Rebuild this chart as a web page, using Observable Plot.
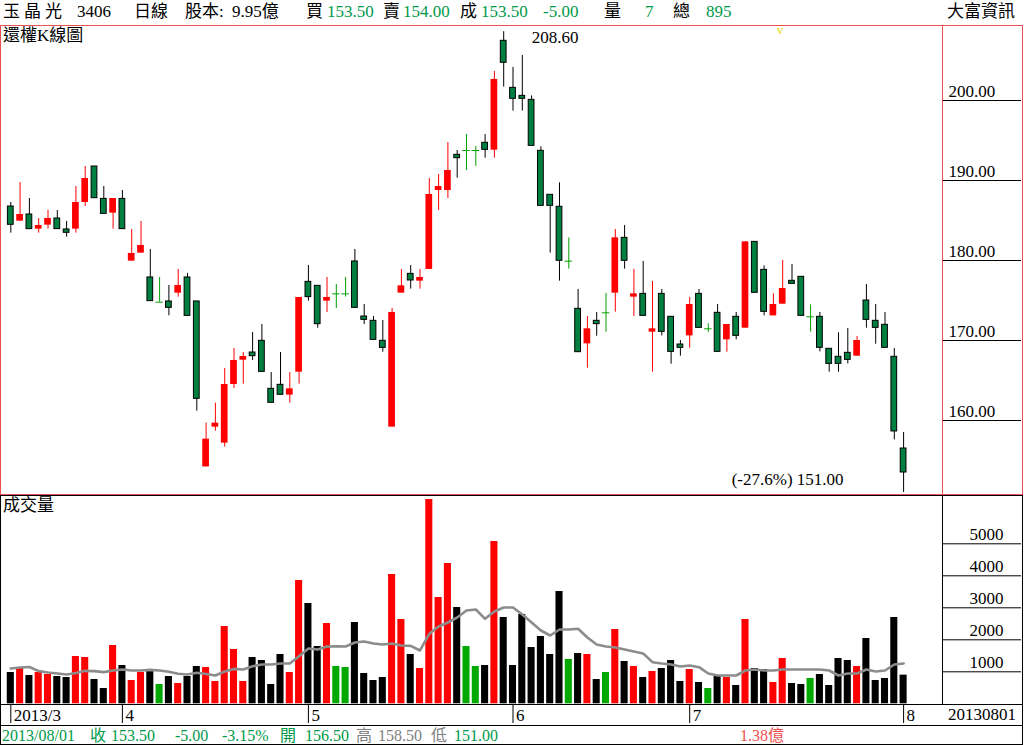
<!DOCTYPE html>
<html><head><meta charset="utf-8">
<script src="https://cdn.jsdelivr.net/npm/d3@7"></script>
<script src="https://cdn.jsdelivr.net/npm/@observablehq/plot@0.6"></script>
<style>
body{margin:0;background:#fff;}
#wrap{position:relative;width:1024px;height:745px;overflow:hidden;font-family:"Liberation Serif","Noto Sans CJK TC",serif;background:#fff;}
.t{position:absolute;white-space:nowrap;line-height:20px;}
.box{position:absolute;box-sizing:border-box;border:1px solid #000;pointer-events:none;z-index:5;}
.plot{position:absolute;left:0;}
</style></head><body><div id="wrap"></div>
<script>
// ---------- data ----------
const openP = [186.75,184.92,185.75,183.92,184.42,185.25,183.88,183.92,187.25,191.75,187.7,185.92,187.7,179.92,180.92,177.88,174.79,174.88,175.92,177.88,174.88,154.2,159.17,157.17,164.5,
167.54,168.5,169.96,163.96,164.46,163.17,166.04,177.33,176.83,174.92,175.83,175.83,179.88,173,172.46,169.96,159.17,175.92,178.33,177.42,178.88,188.75,188.75,193.21,193.75,
193.75,194.71,193.79,207.46,201.58,200.58,200.08,193.71,188.21,186.71,179.92,173.96,169.58,172.46,173.46,175.92,182.83,175.42,175.83,171.04,175.83,172.96,169.5,170.58,175.83,
171.46,173.46,170.08,172.96,171.54,182.33,178.83,173.08,174.54,177.46,177.96,172.96,172.96,168.96,167.96,168.46,168.04,175,172.46,171.96,167.96,156.5];
const highP = [187.25,189.75,187.75,185.25,186.25,186.25,184.88,189.25,191.75,191.75,189.25,187.75,188.75,183.88,184.88,181.38,177.88,176.88,178.88,178.38,174.88,159.67,162.17,166.5,169,
168.5,171,172,166,168.5,166,175.38,179.38,176.83,177.88,177,177.88,181.38,174.5,173,172.5,174,178.88,179.38,178.88,190.25,190.75,194.75,193.75,195.75,
194.25,195.75,203.63,208.6,204.13,205.63,200.58,194.21,188.21,189.71,182.83,176.38,173,173.5,175.88,183.88,184.38,178.88,179.88,177.38,176.38,172.96,170,175.38,176.38,
172.08,174.5,172,173.5,182.33,182.33,179.33,175.83,180,179.5,177.96,174.46,173.5,168.96,170.96,171.5,170.5,177,174.5,173.5,169,158.5];
const lowP = [183.42,184.92,183.92,183.42,183.92,183.92,182.92,183.42,186.75,187.79,185.83,183.92,183.92,179.92,180.92,174.92,174.79,173.08,175.42,173.08,161.17,154.2,158.67,156.67,164,
164.54,167.5,166.08,162.21,163.21,162.17,164.54,174.92,171.54,173.5,174,175.42,174.08,172,170.08,168.54,159.17,175.92,176.42,176.42,178.88,186.25,187.75,190.29,191.25,
191.75,192.79,192.79,201.67,198.67,198.67,194.33,186.83,180.92,177.42,178.92,168.54,166.54,170.54,171.04,173.54,178.92,173,173.08,166.04,170.58,167.04,168.04,169.04,171.58,
171,168.58,168.54,170.08,171.54,175.96,173.08,173.08,174.54,177.08,173.08,171.04,168.58,166.04,166.04,167.08,168.04,171.54,169.54,169.08,157.58,151];
const closeP = [184.46,185.75,183.92,184.38,185.25,183.92,183.46,187.25,190.25,187.79,185.83,187.75,183.92,180.88,181.88,174.92,174.79,174.08,176.88,173.08,162.71,157.67,159.67,164.5,167.5,
168,168.04,166.08,162.21,163.21,163.96,175.38,175.42,172.04,175.38,175.83,175.83,174.08,172.58,170.08,169.08,173.5,176.83,177.5,177.88,188.25,189.25,191.25,192.79,193.75,
193.75,193.83,202.63,204.71,200.21,200.21,194.33,186.83,186.83,179.96,179.92,168.54,171.46,172.04,173.46,182.83,179.96,175.83,173.08,171.46,171.08,168.58,169.08,174.5,171.58,
171.46,168.58,172,170.58,182.33,175.96,173.58,174.5,176.5,177.08,173.08,172.96,169.08,167.08,167.08,167.58,170,172.58,171.58,169.08,158.63,153.5];
const volume = [978,1103,884,978,916,853,822,1478,1447,759,478,1822,1197,728,978,1041,603,853,634,853,1166,1134,697,2416,1697,
697,1447,1353,603,1541,978,3853,3134,1791,2509,1166,1134,2541,947,728,822,4041,2634,1541,1103,6384,3322,4384,3009,1791,
1166,1197,5072,2697,1197,2791,1759,2103,1541,3509,1384,1572,1541,759,978,2322,1322,1166,822,1009,1103,1353,697,1072,666,
478,853,822,572,2634,1103,1072,666,1416,634,603,791,916,572,1416,1353,1166,2041,728,791,2697,895];
const volumeMA = [1103,1134,1150,1020,978,947,916,960,1030,1020,990,1041,1072,1041,1041,1060,1041,1000,940,916,970,930,884,1009,1090,
1072,1176,1228,1228,1260,1260,1489,1728,1697,1790,1800,1790,1916,1947,1885,1853,1885,1822,1811,1666,2186,2416,2541,2697,2916,
2947,2656,2885,3010,3010,2791,2541,2291,2135,2322,2322,2343,2072,1853,1791,1760,1697,1635,1572,1301,1260,1228,1166,1197,1145,
947,884,884,884,1041,1072,1041,1041,1072,1072,1072,1072,1072,1041,884,947,947,1072,1010,1041,1228,1260];
const monthTickIndex = [0,12,32,54,73,96];
const monthTickLabel = ["2013/3","4","5","6","7","8"];
const priceTicks = [160,170,180,190,200];
const volumeTicks = [1000,2000,3000,4000,5000];
const highLabel = {i:53, price:208.6, text:"208.60"};
const lowLabel = {i:96, price:151, text:"(-27.6%) 151.00"};
const headerItems = [[3,"玉","k"],[24,"晶","k"],[45,"光","k"],[77,"3406","k"],[134,"日線","k"],[185,"股本:","k"],[232,"9.95億","k"],
 [306,"買","k"],[327,"153.50","g"],[383,"賣","k"],[403,"154.00","g"],[460,"成","k"],[481,"153.50","g"],[543,"-5.00","g"],
 [604,"量","k"],[645,"7","g"],[673,"總","k"],[706,"895","g"],[947,"大富資訊","k"]];
const footerItems = [[2,"2013/08/01","g"],[90,"收","g"],[111,"153.50","g"],[175,"-5.00","g"],[222,"-3.15%","g"],[280,"開","g"],
 [305,"156.50","g"],[356,"高","s"],[378,"158.50","s"],[431,"低","s"],[454,"151.00","g"],[740,"1.38億","r"]];
const lastDate = "20130801";

// ---------- helpers ----------
const colors = {k:"#000", g:"#009a4a", s:"#808080", r:"#f05050"};
const wrap = document.getElementById("wrap");
function txt(x, y, s, color, size){
  const e = document.createElement("div"); e.className="t";
  e.style.left=x+"px"; e.style.top=y+"px"; e.style.color=color; e.style.fontSize=size+"px";
  e.textContent=s; wrap.appendChild(e); return e;
}
function box(l,t,w,h,c){
  const e=document.createElement("div"); e.className="box";
  Object.assign(e.style,{left:l+"px",top:t+"px",width:w+"px",height:h+"px",borderColor:c});
  wrap.appendChild(e);
}
const isCJK = s => /[\u3400-\u9fff]/.test(s) && !/\d/.test(s);
headerItems.forEach(([x,s,c]) => txt(x, 2, s, colors[c], isCJK(s)?17:17));
footerItems.forEach(([x,s,c]) => txt(x, 726, s, colors[c], 16));

const candles = openP.map((o,i)=>({i, o, h:highP[i], l:lowP[i], c:closeP[i], v:volume[i], ma:volumeMA[i],
  kind: closeP[i]>o ? "up" : closeP[i]<o ? "down" : "doji"}));
const RED="#ff0000", DGREEN="#008040", LGREEN="#00a000";
const wickColor = d => d.kind==="up"?RED:d.kind==="down"?"#000":LGREEN;
const xs = {type:"linear", domain:[0,96], range:[10.3,903.1]};
const style = {background:"transparent", overflow:"visible", fontFamily:"Liberation Serif, serif", fontSize:"17px", color:"#000"};

// ---------- price panel ----------
const price = Plot.plot({
  width:1024, height:470, marginLeft:0, marginRight:82, marginTop:0, marginBottom:0,
  x:{...xs}, y:{domain:[150,210], range:[475,-5]}, style,
  marks:[
    Plot.axisX({ticks:[], label:null, tickSize:0}),
    Plot.axisY({anchor:"right", ticks:priceTicks, tickSize:78, tickFormat:()=>"", label:null, stroke:"#000"}),
    Plot.text(priceTicks, {y:d=>d, text:d=>d.toFixed(2), frameAnchor:"right", textAnchor:"start", dx:6, dy:-9, fontSize:17, fill:"#000"}),
    Plot.ruleX(candles, {x:"i", y1:"l", y2:"h", stroke:wickColor, strokeWidth:1}),
    Plot.rect(candles.filter(d=>d.kind==="up"), {x1:d=>d.i-0.36, x2:d=>d.i+0.36, y1:"o", y2:"c", fill:RED}),
    Plot.rect(candles.filter(d=>d.kind==="down"), {x1:d=>d.i-0.31, x2:d=>d.i+0.31, y1:"o", y2:"c", fill:DGREEN, stroke:"#000", strokeWidth:1}),
    Plot.ruleY(candles.filter(d=>d.kind==="doji"), {x1:d=>d.i-0.4, x2:d=>d.i+0.4, y:"c", stroke:LGREEN, strokeWidth:1}),
    Plot.text([highLabel], {x:"i", y:"price", text:"text", textAnchor:"start", dx:28, dy:6, fontSize:17, fill:"#000"}),
    Plot.text([lowLabel], {x:"i", y:"price", text:"text", textAnchor:"end", dx:-60, dy:-13, fontSize:17, fill:"#000"})
  ]
});
price.classList.add("plot"); price.style.top="25px"; wrap.appendChild(price);

// ---------- volume panel ----------
const vol = Plot.plot({
  width:1024, height:210, marginLeft:0, marginRight:82, marginTop:0, marginBottom:0,
  x:{...xs}, y:{domain:[0,6500], range:[208.3,0.3]}, style,
  marks:[
    Plot.axisX({ticks:[], label:null, tickSize:0}),
    Plot.axisY({anchor:"right", ticks:volumeTicks, tickSize:78, tickFormat:()=>"", label:null, stroke:"#000"}),
    Plot.text(volumeTicks, {y:d=>d, text:d=>String(d), frameAnchor:"right", textAnchor:"end", dx:61, dy:-9, fontSize:17, fill:"#000"}),
    Plot.rect(candles, {x1:d=>d.i-0.38, x2:d=>d.i+0.38, y1:0, y2:"v",
      fill:d=>d.kind==="up"?RED:d.kind==="down"?"#000":"#00a800"}),
    Plot.line(candles, {x:"i", y:"ma", stroke:"#8c8c8c", strokeWidth:2.6, curve:"linear"})
  ]
});
vol.classList.add("plot"); vol.style.top="495px"; wrap.appendChild(vol);

// ---------- date row ----------
const months = monthTickIndex.map((i,k)=>({i, label:monthTickLabel[k]}));
const dates = Plot.plot({
  width:1024, height:21, marginLeft:0, marginRight:82, marginTop:1, marginBottom:2,
  x:{...xs}, style,
  marks:[
    Plot.axisX({ticks:[], label:null, tickSize:0}),
    Plot.ruleX(months, {x:"i", stroke:"#000", strokeWidth:1}),
    Plot.text(months, {x:"i", text:"label", frameAnchor:"middle", textAnchor:"start", dx:3, dy:1, fontSize:17, fill:"#000"})
  ]
});
dates.classList.add("plot"); dates.style.top="704px"; wrap.appendChild(dates);
txt(948, 705, lastDate, "#000", 17);

// ---------- titles, marks, frames ----------
txt(3, 26, "還權K線圖", "#000", 17);
txt(3, 496, "成交量", "#000", 17);
txt(777, 20, "v", "#e6d800", 12);
const PR="#ee5050";
box(0,25,943,470,PR); box(942,25,81,470,PR);
box(0,495,943,210,"#000"); box(942,495,81,210,"#000");
box(0,704,1023,22,"#000"); box(0,725,1023,20,"#000");
</script></body></html>
